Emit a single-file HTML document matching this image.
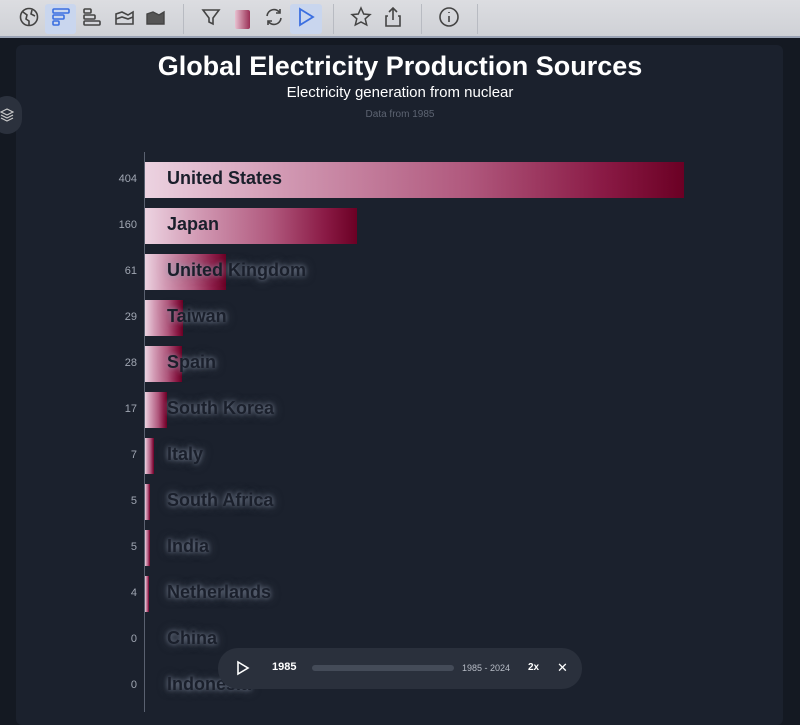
<!DOCTYPE html>
<html><head><style>
body{margin:0;width:800px;height:711px;overflow:hidden;background:#141922;font-family:"Liberation Sans",sans-serif;position:relative}
.tb{position:absolute;left:0;top:0;width:800px;height:36px;background:linear-gradient(#dcdde1,#cfd1d6);border-bottom:2px solid #9aa3b5}
.ic{position:absolute;top:6px;width:22px;height:22px}
.sep{position:absolute;top:4px;width:1px;height:30px;background:#b8bbc2}
.card{position:absolute;left:16px;top:45px;width:767px;height:680px;background:#1b212d;border-radius:6px}
.t{position:absolute;left:0;width:800px;text-align:center;color:#fff}
.bar{position:absolute;left:145px;height:36px;background:linear-gradient(90deg,#ecd3e1 0%,#d29ab4 25%,#b0587d 60%,#8a1a45 85%,#6b0024 100%)}
.lab{position:absolute;left:167px;font-size:18px;font-weight:bold;color:#1a1f2b;text-shadow:0 0 5px rgba(150,160,180,.7),0 0 10px rgba(140,150,170,.5)}
.val{position:absolute;width:40px;left:97px;text-align:right;font-size:11px;color:#a0a6b2}
</style></head><body>
<div class="tb">
<div style="position:absolute;left:45px;top:4px;width:31px;height:30px;background:#c9d6ee;border-radius:3px"></div>
<div style="position:absolute;left:290px;top:4px;width:32px;height:30px;background:#c9d6ee;border-radius:3px"></div>
<svg class="ic" style="left:18px" viewBox="0 0 22 22" fill="none" stroke="#444" stroke-width="1.6"><circle cx="11" cy="11" r="8.5"/><path d="M5 6l4 3-1 4 3 2v4M14 4l-1 4 4 2"/></svg>
<svg class="ic" style="left:50px" viewBox="0 0 22 22" fill="none" stroke="#3b6fe0" stroke-width="1.6"><rect x="3" y="3" width="16" height="4" rx="1"/><rect x="3" y="9" width="11" height="4" rx="1"/><rect x="3" y="15" width="6" height="4" rx="1"/></svg>
<svg class="ic" style="left:81px" viewBox="0 0 22 22" fill="none" stroke="#444" stroke-width="1.6"><rect x="3" y="3" width="7" height="4" rx="1"/><rect x="3" y="9" width="11" height="4" rx="1"/><rect x="3" y="15" width="16" height="4" rx="1"/></svg>
<svg class="ic" style="left:113px" viewBox="0 0 22 22" fill="none" stroke="#444" stroke-width="1.6"><path d="M3 18V8l6-2 6 3 5-3v12z"/><path d="M3 13l6-2 6 2 5-2"/></svg>
<svg class="ic" style="left:144px" viewBox="0 0 22 22" fill="#555" stroke="#444" stroke-width="1.4"><path d="M3 18V8l6-2 6 3 5-3v12z"/></svg>
<div class="sep" style="left:183px"></div>
<svg class="ic" style="left:200px" viewBox="0 0 22 22" fill="none" stroke="#444" stroke-width="1.6"><path d="M3 4h16l-6 8v6l-4-2v-4z"/></svg>
<div style="position:absolute;left:235px;top:10px;width:15px;height:19px;border-radius:2px;background:linear-gradient(90deg,#e8c0d0,#9a2f55)"></div>
<svg class="ic" style="left:263px" viewBox="0 0 22 22" fill="none" stroke="#444" stroke-width="1.6"><path d="M4 10a7 7 0 0 1 13-3M18 12a7 7 0 0 1-13 3M17 3v4h-4M5 19v-4h4"/></svg>
<svg class="ic" style="left:295px" viewBox="0 0 22 22" fill="none" stroke="#3b6fe0" stroke-width="1.8"><path d="M5 3l13 8-13 8z"/></svg>
<div class="sep" style="left:333px"></div>
<svg class="ic" style="left:350px" viewBox="0 0 22 22" fill="none" stroke="#444" stroke-width="1.5"><path d="M11 2l2.7 6 6.3.6-4.8 4.2 1.5 6.2L11 16l-5.7 3 1.5-6.2L2 8.6 8.3 8z"/></svg>
<svg class="ic" style="left:382px" viewBox="0 0 22 22" fill="none" stroke="#444" stroke-width="1.6"><path d="M11 2v12M7 6l4-4 4 4M6 10H4v10h14V10h-2"/></svg>
<div class="sep" style="left:421px"></div>
<svg class="ic" style="left:438px" viewBox="0 0 22 22" fill="none" stroke="#444" stroke-width="1.6"><circle cx="11" cy="11" r="9"/><path d="M11 10v6M11 6v1"/></svg>
<div class="sep" style="left:477px"></div>
</div>
<div class="card"></div>
<div style="position:absolute;left:-8px;top:96px;width:30px;height:38px;border-radius:19px;background:#2b313d"></div>
<svg style="position:absolute;left:0;top:108px" width="14" height="14" viewBox="0 0 14 14" fill="none" stroke="#ccc" stroke-width="1.2"><path d="M7 1l6 3-6 3-6-3zM1 7l6 3 6-3M1 10l6 3 6-3"/></svg>
<div class="t" style="top:51px;font-size:27px;font-weight:bold">Global Electricity Production Sources</div>
<div class="t" style="top:84px;font-size:15px">Electricity generation from nuclear</div>
<div class="t" style="top:109px;font-size:10px;color:#5d6472">Data from 1985</div>
<div style="position:absolute;left:144px;top:152px;width:1px;height:560px;background:#5a6170"></div>

<div class="bar" style="top:162px;width:539px"></div>
<div class="bar" style="top:208px;width:212px"></div>
<div class="bar" style="top:254px;width:81px"></div>
<div class="bar" style="top:300px;width:38px"></div>
<div class="bar" style="top:346px;width:37px"></div>
<div class="bar" style="top:392px;width:22px"></div>
<div class="bar" style="top:438px;width:9px"></div>
<div class="bar" style="top:484px;width:5px"></div>
<div class="bar" style="top:530px;width:5px"></div>
<div class="bar" style="top:576px;width:4px"></div>

<div class="lab" style="top:168px;text-shadow:none">United States</div>
<div class="lab" style="top:214px;text-shadow:none">Japan</div>
<div class="lab" style="top:260px">United Kingdom</div>
<div class="lab" style="top:306px">Taiwan</div>
<div class="lab" style="top:352px">Spain</div>
<div class="lab" style="top:398px">South Korea</div>
<div class="lab" style="top:444px">Italy</div>
<div class="lab" style="top:490px">South Africa</div>
<div class="lab" style="top:536px">India</div>
<div class="lab" style="top:582px">Netherlands</div>
<div class="lab" style="top:628px">China</div>
<div class="lab" style="top:674px">Indonesia</div>

<div class="val" style="top:173px">404</div>
<div class="val" style="top:219px">160</div>
<div class="val" style="top:265px">61</div>
<div class="val" style="top:311px">29</div>
<div class="val" style="top:357px">28</div>
<div class="val" style="top:403px">17</div>
<div class="val" style="top:449px">7</div>
<div class="val" style="top:495px">5</div>
<div class="val" style="top:541px">5</div>
<div class="val" style="top:587px">4</div>
<div class="val" style="top:633px">0</div>
<div class="val" style="top:679px">0</div>

<div style="position:absolute;left:218px;top:648px;width:364px;height:41px;border-radius:20px;background:#2a303c"></div>
<svg style="position:absolute;left:236px;top:660px" width="14" height="16" viewBox="0 0 14 16" fill="none" stroke="#fff" stroke-width="1.6"><path d="M2 2l10 6-10 6z"/></svg>
<div style="position:absolute;left:272px;top:661px;color:#fff;font-size:11px;font-weight:bold">1985</div>
<div style="position:absolute;left:312px;top:665px;width:142px;height:6px;border-radius:3px;background:#444b58"></div>
<div style="position:absolute;left:462px;top:663px;color:#b8bdc7;font-size:9px">1985 - 2024</div>
<div style="position:absolute;left:528px;top:662px;color:#fff;font-size:10px;font-weight:bold">2x</div>
<div style="position:absolute;left:557px;top:660px;color:#fff;font-size:13px">✕</div>
</body></html>
